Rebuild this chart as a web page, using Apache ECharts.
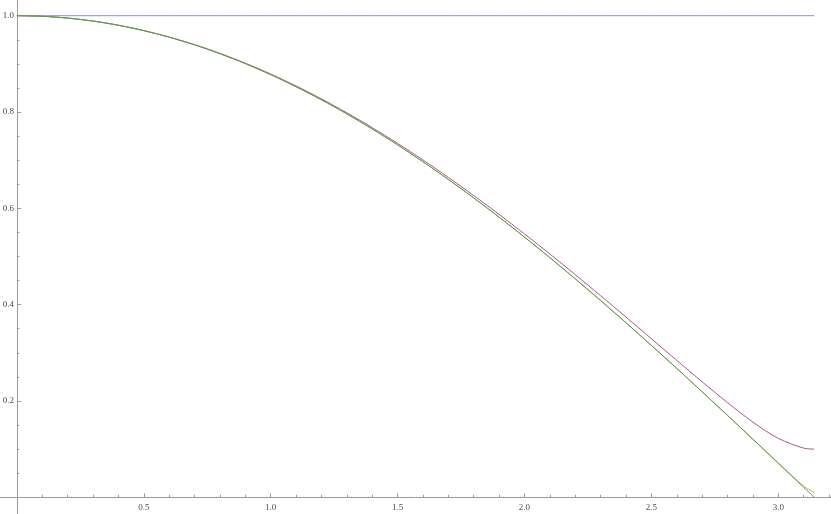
<!DOCTYPE html>
<html>
<head>
<meta charset="utf-8">
<script src="https://cdn.jsdelivr.net/npm/echarts@6/dist/echarts.min.js"></script>
<style>html,body{margin:0;padding:0;background:#fff}#c{width:831px;height:514px}</style>
</head>
<body>
<div id="c"></div>
<script>
// x sample positions
const xs = [0,0.1,0.2,0.3,0.4,0.5,0.6,0.7,0.8,0.9,1.0,1.1,1.2,1.3,1.4,1.5,1.6,1.7,1.8,1.9,2.0,2.1,2.2,2.3,2.4,2.5,2.6,2.7,2.8,2.9,3.0,3.1,3.1416];
// series values
const blueVals = [1,1,1,1,1,1,1,1,1,1,1,1,1,1,1,1,1,1,1,1,1,1,1,1,1,1,1,1,1,1,1,1,1];
const purpleVals = [1,0.9988,0.9951,0.9889,0.9803,0.9692,0.9558,0.9400,0.9219,0.9015,0.8789,0.8541,0.8273,0.7984,0.7676,0.7349,0.7004,0.6642,0.6265,0.5873,0.5468,0.5051,0.4623,0.4186,0.3742,0.3293,0.2843,0.2398,0.1965,0.1561,0.1223,0.1021,0.1000];
const orangeVals = [1,0.9988,0.9950,0.9888,0.9801,0.9689,0.9553,0.9394,0.9211,0.9005,0.8776,0.8525,0.8253,0.7961,0.7648,0.7317,0.6967,0.6600,0.6216,0.5817,0.5403,0.4976,0.4536,0.4085,0.3624,0.3153,0.2675,0.2190,0.1700,0.1209,0.0714,0.0231,0.0100];
const greenVals = [1,0.9988,0.9950,0.9888,0.9801,0.9689,0.9553,0.9394,0.9211,0.9005,0.8776,0.8525,0.8253,0.7961,0.7648,0.7317,0.6967,0.6600,0.6216,0.5817,0.5403,0.4976,0.4536,0.4085,0.3624,0.3153,0.2675,0.2190,0.1700,0.1205,0.0707,0.0208,0.0000];
// tick labels
const xMajor = [0.5,1.0,1.5,2.0,2.5,3.0];
const xMinor = [0.1,0.2,0.3,0.4,0.6,0.7,0.8,0.9,1.1,1.2,1.3,1.4,1.6,1.7,1.8,1.9,2.1,2.2,2.3,2.4,2.6,2.7,2.8,2.9,3.1,3.2];
const yMajor = [0.2,0.4,0.6,0.8,1.0];
const yMinor = [0.05,0.1,0.15,0.25,0.3,0.35,0.45,0.5,0.55,0.65,0.7,0.75,0.85,0.9,0.95];

const pairs = v => xs.map((x,i)=>[x,v[i]]);
const axisColor = '#9a9a9a';
const labelStyle = {color:'#4a4a4a', fontFamily:'Liberation Serif', fontSize:9};
const X_MIN = -0.0666, X_MAX = 3.2077, Y_MIN = -0.0347, Y_MAX = 1.0326;
const W = 831, H = 514;
// offsets so the axis lines sit at the data origin
const xOff = -(H * (0 - Y_MIN) / (Y_MAX - Y_MIN));
const yOff = -(W * (0 - X_MIN) / (X_MAX - X_MIN));
const chart = echarts.init(document.getElementById('c'), null, {renderer:'canvas'});
chart.setOption({
  animation:false,
  grid:{left:0,right:0,top:0,bottom:0,containLabel:false,outerBoundsMode:'none'},
  xAxis:[{
    type:'value', min:X_MIN, max:X_MAX, position:'bottom', offset:xOff,
    axisLine:{show:true,onZero:false,lineStyle:{color:axisColor,width:1}},
    axisTick:{show:true,inside:true,length:4,customValues:xMajor,lineStyle:{color:axisColor}},
    axisLabel:{show:true,customValues:xMajor,margin:6,formatter:v=>v.toFixed(1),...labelStyle},
    splitLine:{show:false}
  },{
    type:'value', min:X_MIN, max:X_MAX, position:'bottom', offset:xOff,
    axisLine:{show:false,onZero:false},
    axisTick:{show:true,inside:true,length:2.5,customValues:xMinor,lineStyle:{color:axisColor}},
    axisLabel:{show:false},
    splitLine:{show:false}
  }],
  yAxis:[{
    type:'value', min:Y_MIN, max:Y_MAX, position:'left', offset:yOff,
    axisLine:{show:true,onZero:false,lineStyle:{color:axisColor,width:1}},
    axisTick:{show:true,inside:true,length:4,customValues:yMajor,lineStyle:{color:axisColor}},
    axisLabel:{show:true,customValues:yMajor,margin:3,formatter:v=>v.toFixed(1),...labelStyle},
    splitLine:{show:false}
  },{
    type:'value', min:Y_MIN, max:Y_MAX, position:'left', offset:yOff,
    axisLine:{show:false,onZero:false},
    axisTick:{show:true,inside:true,length:2.5,customValues:yMinor,lineStyle:{color:axisColor}},
    axisLabel:{show:false},
    splitLine:{show:false}
  }],
  series:[
    {type:'line',data:pairs(blueVals),showSymbol:false,smooth:false,lineStyle:{color:'#8c8cd8',width:1},silent:true},
    {type:'line',data:pairs(purpleVals),showSymbol:false,smooth:0.3,lineStyle:{color:'#b0508a',width:1},silent:true},
    {type:'line',data:pairs(orangeVals),showSymbol:false,smooth:0.3,lineStyle:{color:'#c8b45a',width:1},silent:true},
    {type:'line',data:pairs(greenVals),showSymbol:false,smooth:0.3,lineStyle:{color:'#4a9a50',width:1},silent:true}
  ]
});
</script>
</body>
</html>
